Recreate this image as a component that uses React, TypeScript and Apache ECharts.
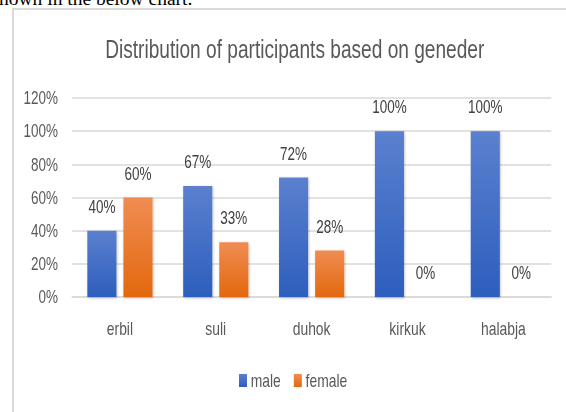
import React, { useEffect, useRef } from "react";
import * as echarts from "echarts";

const categories = ["erbil", "suli", "duhok", "kirkuk", "halabja"];
const maleValues = [0.4, 0.67, 0.72, 1.0, 1.0];
const femaleValues = [0.6, 0.33, 0.28, 0, 0];
const seriesNames = ["male", "female"];
const titleText = "Distribution of participants based on geneder";
const yMin = 0;
const yMax = 1.2;
const yInterval = 0.2;

const FONT = "'Liberation Sans', Arial, sans-serif";
const SQUEEZE = 0.75; // horizontal squeeze of the whole chart, as in the reference
const W = 566;
const H = 412;
const sx = (px: number) => px / SQUEEZE;

export default function App() {
  const ref = useRef<HTMLDivElement>(null);
  useEffect(() => {
    document.body.style.margin = "0";
    if (!ref.current) return;
    const chart = echarts.init(ref.current, undefined, { renderer: "svg" });
    const pct = (v: number) => Math.round(v * 100) + "%";
    const blue = new echarts.graphic.LinearGradient(0, 0, 0, 1, [
      { offset: 0, color: "#5b80cf" },
      { offset: 1, color: "#2d5ebd" },
    ]);
    const orange = new echarts.graphic.LinearGradient(0, 0, 0, 1, [
      { offset: 0, color: "#f08c52" },
      { offset: 1, color: "#e3680e" },
    ]);
    const labelStyle = {
      show: true,
      position: "top" as const,
      distance: 15,
      fontFamily: FONT,
      fontSize: 18,
      color: "#404040",
      formatter: (p: any) => pct(p.value),
    };
    const shadow = { shadowBlur: 3, shadowColor: "rgba(0,0,0,0.25)", shadowOffsetX: 1, shadowOffsetY: 1 };
    chart.setOption({
      animation: false,
      title: {
        text: titleText,
        left: sx(291),
        textAlign: "center",
        top: 32,
        textStyle: { fontFamily: FONT, fontSize: 25.5, fontWeight: "normal", color: "#595959" },
      },
      legend: {
        data: seriesNames,
        left: sx(239) - 5,
        top: 366,
        itemWidth: sx(8),
        itemHeight: 13,
        itemGap: sx(13),
        icon: "rect",
        textStyle: { fontFamily: FONT, fontSize: 18.5, color: "#595959" },
      },
      grid: { left: sx(72), right: sx(15), top: 98, bottom: 115, containLabel: false },
      xAxis: {
        type: "category",
        data: categories,
        axisLine: { show: true, lineStyle: { color: "#d9d9d9", width: 1.5 } },
        axisTick: { show: false },
        axisLabel: { fontFamily: FONT, fontSize: 18.5, color: "#595959", margin: 22 },
      },
      yAxis: {
        type: "value",
        min: yMin,
        max: yMax,
        interval: yInterval,
        axisLine: { show: false },
        axisTick: { show: false },
        splitLine: { lineStyle: { color: "#d9d9d9", width: 1.5 } },
        axisLabel: { fontFamily: FONT, fontSize: 18, color: "#595959", margin: sx(14), formatter: (v: number) => pct(v) },
      },
      series: [
        {
          name: seriesNames[0],
          type: "bar",
          data: maleValues,
          barGap: "24%",
          barCategoryGap: "32%",
          itemStyle: { color: blue, ...shadow },
          label: labelStyle,
        },
        {
          name: seriesNames[1],
          type: "bar",
          data: femaleValues,
          barGap: "24%",
          barCategoryGap: "32%",
          itemStyle: { color: orange, ...shadow },
          label: labelStyle,
        },
      ],
    });
    return () => chart.dispose();
  }, []);
  return (
    <div style={{ position: "fixed", left: 0, top: 0, width: W, height: H, overflow: "hidden", background: "#fff" }}>
      <div
        style={{
          position: "absolute",
          left: -1,
          top: -11,
          fontFamily: "'Liberation Serif', 'Times New Roman', serif",
          fontSize: 19.5,
          lineHeight: "20px",
          color: "#000",
          whiteSpace: "nowrap",
        }}
      >
        hown in the below chart.
      </div>
      <div
        style={{
          position: "absolute",
          left: 12,
          top: 8,
          width: 600,
          height: 450,
          borderLeft: "2px solid #d9d9d9",
          borderTop: "2px solid #d9d9d9",
        }}
      />
      <div
        ref={ref}
        style={{
          position: "absolute",
          left: 0,
          top: 0,
          width: sx(W),
          height: H,
          transform: `scaleX(${SQUEEZE})`,
          transformOrigin: "0 0",
        }}
      />
    </div>
  );
}
